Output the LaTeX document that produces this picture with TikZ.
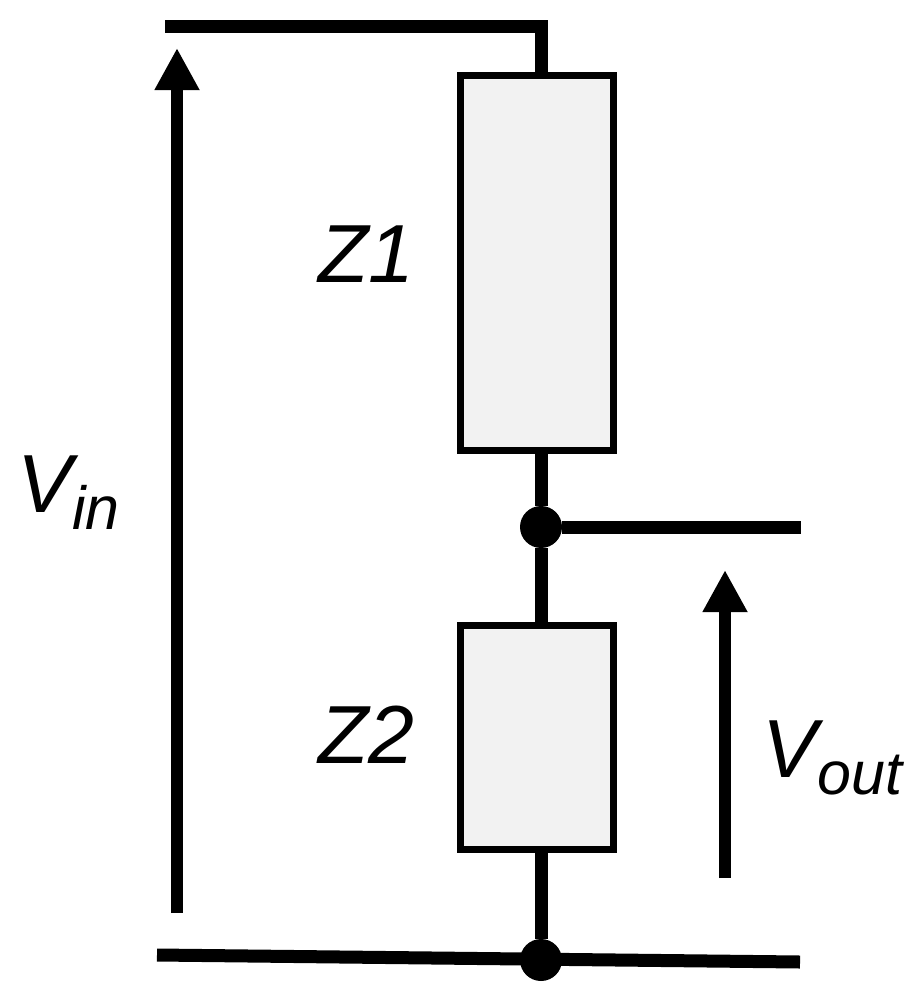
\documentclass[tikz,border=0pt]{standalone}
\usepackage{fontspec}
\setmainfont{Liberation Sans}
\usetikzlibrary{positioning,arrows.meta}
\definecolor{boxgray}{RGB}{242,242,242}
\newcommand*{\lowtext}[1]{\raisebox{-10.2pt}{\fontsize{34.7}{40}\selectfont #1}}

\begin{document}
\begin{tikzpicture}[x=0.02cm, y=-0.02cm]
    \tikzstyle{wire}=[line width=7.4pt];
    \tikzstyle{impedance}=[draw, line width=3.7pt, fill=boxgray, minimum width=3.06cm, inner sep=0pt];
    \tikzstyle{junction}=[circle, fill=black, minimum size=0.84cm, inner sep=0pt];
    \tikzstyle{voltage}=[line width=6.8pt, -{Triangle[length=24pt, width=24pt]}];
    \tikzstyle{tag}=[inner sep=0pt, font=\fontsize{46.9}{56}\selectfont\itshape];

    \useasboundingbox (0,0) rectangle (910,989);

    % impedances and junctions
    \node[impedance, minimum height=7.5cm] (Z1) at (537,263) {};
    \node[impedance, minimum height=4.48cm] (Z2) at (537,737.5) {};
    \node[junction] (mid) at (541,527) {};
    \node[junction] (gnd) at (541,960) {};

    \coordinate (inTop) at (165,27);
    \coordinate (outTop) at (801,527);
    \coordinate (inBot) at (157,955);
    \coordinate (outBot) at (800,962);

    % wires
    \draw[wire] (inTop) -| (Z1.north -| mid);
    \draw[wire] (Z1.south -| mid) -- (mid) -- (Z2.north -| mid);
    \draw[wire] (mid) -- (outTop);
    \draw[wire] (Z2.south -| mid) -- (gnd);
    \draw[wire] (inBot) -- (outBot);

    % voltages
    \coordinate (vinTail) at (177,913);
    \coordinate (vinTip) at (177,48);
    \coordinate (voutTail) at (725,878);
    \coordinate (voutTip) at (725,570);
    \draw[voltage] (vinTail) -- (vinTip);
    \draw[voltage] (voutTail) -- (voutTip);

    % labels
    \node[tag, anchor=base west] (z1Tag) at (318,283) {Z1};
    \node[tag, anchor=base west] (z2Tag) at (318,763) {Z2};
    \node[tag, anchor=base west] (vinTag) at (17,512) {V\lowtext{in}};
    \node[tag, anchor=base west] (voutTag) at (762,777) {V\lowtext{out}};
\end{tikzpicture}
\end{document}
